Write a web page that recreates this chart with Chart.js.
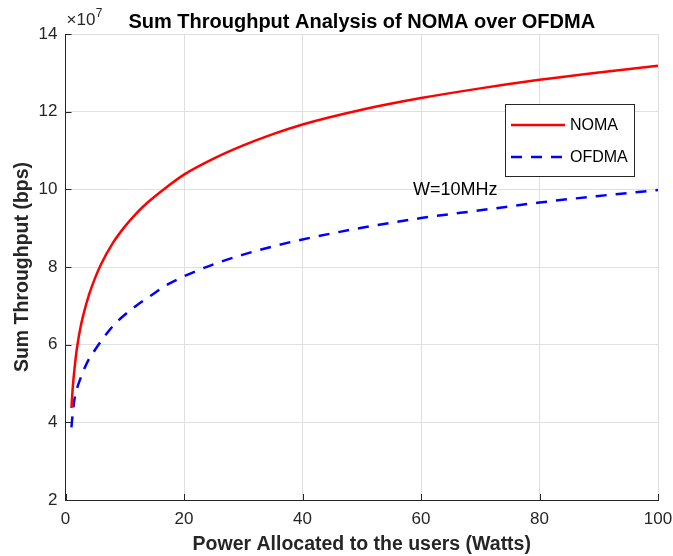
<!DOCTYPE html>
<html>
<head>
<meta charset="utf-8">
<script src="https://cdn.jsdelivr.net/npm/chart.js@4/dist/chart.umd.min.js"></script>
<style>
html,body{margin:0;padding:0;background:#fff;}
#c{display:block;}
</style>
</head>
<body>
<canvas id="c" width="673" height="556"></canvas>
<script>
// ---- data (throughput in bps) ----
const powerW = [1, 1.25, 1.5, 1.75, 2, 2.5, 3, 4, 5, 6, 8, 10, 12, 14, 17, 20, 25, 30, 35, 40, 50, 60, 70, 80, 90, 100];
const nomaBps = [4.37e7, 4.95e7, 5.35e7, 5.70e7, 5.98e7, 6.42e7, 6.76e7, 7.30e7, 7.72e7, 8.07e7, 8.62e7, 9.04e7, 9.39e7, 9.68e7, 10.05e7, 10.38e7, 10.79e7, 11.13e7, 11.42e7, 11.67e7, 12.05e7, 12.35e7, 12.60e7, 12.82e7, 13.01e7, 13.18e7];
const ofdmaBps = [3.87e7, 4.28e7, 4.58e7, 4.76e7, 4.90e7, 5.12e7, 5.32e7, 5.64e7, 5.87e7, 6.09e7, 6.48e7, 6.77e7, 7.01e7, 7.22e7, 7.53e7, 7.76e7, 8.07e7, 8.32e7, 8.53e7, 8.71e7, 9.01e7, 9.26e7, 9.46e7, 9.66e7, 9.83e7, 9.98e7];
const seriesNames = ['NOMA', 'OFDMA'];
const xTicks = [0, 20, 40, 60, 80, 100];
const yTicks = [2e7, 4e7, 6e7, 8e7, 10e7, 12e7, 14e7];
const titleText = 'Sum Throughput Analysis of NOMA over OFDMA';
const xTitle = 'Power Allocated to the users (Watts)';
const yTitle = 'Sum Throughput (bps)';
const noteText = 'W=10MHz';

const FAM = '"Liberation Sans", Arial, Helvetica, sans-serif';
const AX = '#262626';

const toPts = (ys) => powerW.map((x, i) => ({x: x, y: ys[i]}));

const decor = {
  id: 'decor',
  afterDraw(chart) {
    const ctx = chart.ctx;
    const xs = chart.scales.x, ys = chart.scales.y;
    const ca = chart.chartArea;
    ctx.save();
    // inward ticks
    ctx.strokeStyle = AX;
    ctx.lineWidth = 1;
    ctx.beginPath();
    xTicks.forEach(v => {
      const px = Math.round(xs.getPixelForValue(v)) + 0.5;
      ctx.moveTo(px, ca.bottom);
      ctx.lineTo(px, ca.bottom - 6);
    });
    yTicks.forEach(v => {
      const py = Math.round(ys.getPixelForValue(v)) + 0.5;
      ctx.moveTo(ca.left, py);
      ctx.lineTo(ca.left + 6, py);
    });
    ctx.stroke();

    // title
    ctx.fillStyle = '#000';
    ctx.font = 'bold 20px ' + FAM;
    ctx.textAlign = 'center';
    ctx.textBaseline = 'alphabetic';
    ctx.fillText(titleText, (ca.left + ca.right) / 2, 27.5);

    // exponent label
    ctx.fillStyle = AX;
    ctx.textAlign = 'left';
    ctx.font = '17px ' + FAM;
    ctx.fillText('\u00d710', ca.left + 1, 25);
    const w = ctx.measureText('\u00d710').width;
    ctx.font = '12px ' + FAM;
    ctx.fillText('7', ca.left + 1 + w + 0.5, 17);

    // annotation
    ctx.fillStyle = '#000';
    ctx.font = '18px ' + FAM;
    ctx.textBaseline = 'middle';
    ctx.fillText(noteText, xs.getPixelForValue(58.65), 190.5);

    // legend
    const lx = 505.5, ly = 104.5, lw = 129, lh = 72;
    ctx.fillStyle = '#fff';
    ctx.fillRect(lx, ly, lw, lh);
    ctx.strokeStyle = AX;
    ctx.lineWidth = 1;
    ctx.strokeRect(lx, ly, lw, lh);
    const rows = [125, 157];
    chart.data.datasets.forEach((ds, i) => {
      ctx.beginPath();
      ctx.strokeStyle = ds.borderColor;
      ctx.lineWidth = ds.borderWidth;
      ctx.setLineDash(ds.borderDash || []);
      ctx.moveTo(511, rows[i]);
      ctx.lineTo(565, rows[i]);
      ctx.stroke();
      ctx.setLineDash([]);
      ctx.fillStyle = '#000';
      ctx.font = '16px ' + FAM;
      ctx.textBaseline = 'middle';
      ctx.textAlign = 'left';
      ctx.fillText(ds.label, 570, rows[i] + 1);
    });
    ctx.restore();
  }
};

new Chart(document.getElementById('c'), {
  type: 'scatter',
  data: {
    datasets: [
      {label: seriesNames[0], data: toPts(nomaBps), showLine: true, borderColor: '#ff0000', backgroundColor: '#ff0000', borderWidth: 2.5, pointRadius: 0, cubicInterpolationMode: 'monotone', fill: false},
      {label: seriesNames[1], data: toPts(ofdmaBps), showLine: true, borderColor: '#0000ff', backgroundColor: '#0000ff', borderWidth: 2.5, borderDash: [11, 9], pointRadius: 0, cubicInterpolationMode: 'monotone', fill: false}
    ]
  },
  options: {
    responsive: false,
    animation: false,
    devicePixelRatio: 1,
    layout: {padding: {top: 34, right: 15, left: 0, bottom: 0}},
    plugins: {legend: {display: false}, tooltip: {enabled: false}, title: {display: false}},
    scales: {
      x: {
        type: 'linear', min: 0, max: 100,
        afterBuildTicks: (s) => { s.ticks = xTicks.map(v => ({value: v})); },
        ticks: {font: {size: 17, family: FAM}, color: AX, padding: 9, maxRotation: 0, autoSkip: false},
        grid: {color: '#dfdfdf', lineWidth: 1, drawTicks: false},
        border: {display: true, color: AX, width: 1},
        title: {display: true, text: xTitle, color: AX, font: {size: 19.5, weight: 'bold', family: FAM}, padding: {top: 0, bottom: 0}},
        afterFit: (s) => { s.height = 56; s.paddingLeft = 0; s.paddingRight = 0; }
      },
      y: {
        type: 'linear', min: 2e7, max: 14e7,
        afterBuildTicks: (s) => { s.ticks = yTicks.map(v => ({value: v})); },
        ticks: {font: {size: 17, family: FAM}, color: AX, padding: 8, callback: (v) => String(Math.round(v / 1e7))},
        grid: {color: '#dfdfdf', lineWidth: 1, drawTicks: false},
        border: {display: true, color: AX, width: 1},
        title: {display: true, text: yTitle, color: AX, font: {size: 19.5, weight: 'bold', family: FAM}, padding: {top: 11, bottom: 0}},
        afterFit: (s) => { s.width = 65.5; s.paddingTop = 0; s.paddingBottom = 0; }
      }
    }
  },
  plugins: [decor]
});
</script>
</body>
</html>
